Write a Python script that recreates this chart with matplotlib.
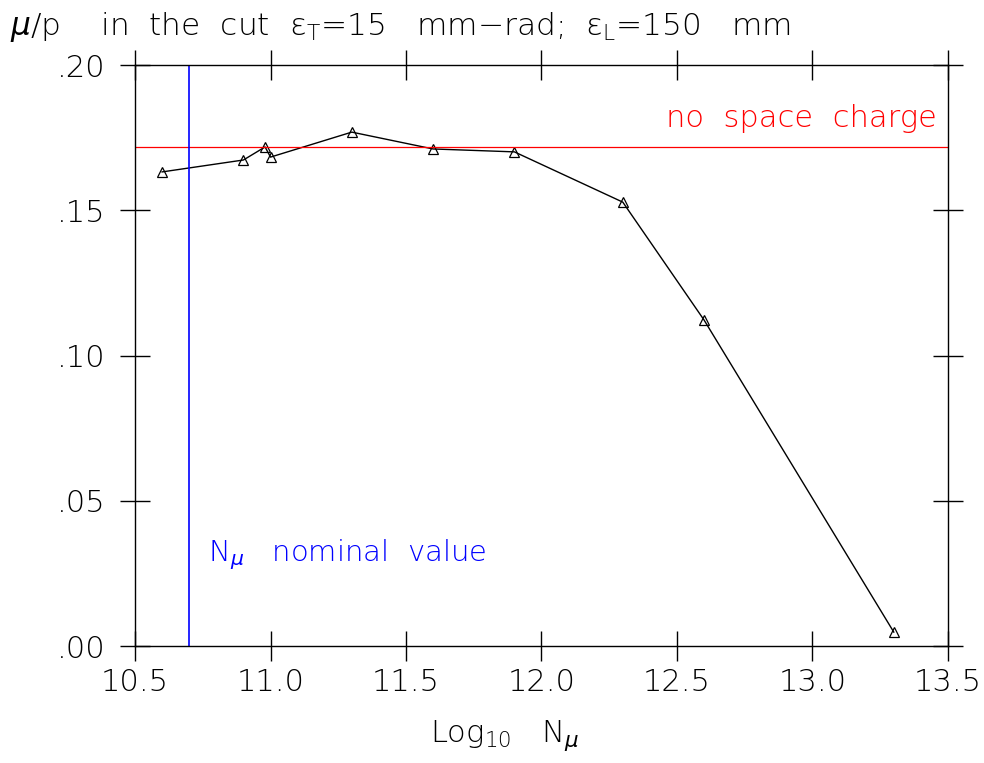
import matplotlib
matplotlib.use("Agg")
import matplotlib.pyplot as plt
from matplotlib.ticker import FixedLocator, FuncFormatter

# data
log_n = [10.6, 10.9, 10.98, 11.0, 11.3, 11.6, 11.9, 12.3, 12.6, 13.3]
mu_p = [0.1632, 0.1673, 0.1718, 0.1683, 0.1769, 0.1711, 0.1701, 0.1528, 0.1122, 0.0048]
no_sc_level = 0.1718
nominal_log_n = 10.7

x_ticks = [10.5, 11.0, 11.5, 12.0, 12.5, 13.0, 13.5]
y_ticks = [0.00, 0.05, 0.10, 0.15, 0.20]

plt.rcParams["font.family"] = ["DejaVu Sans"]
plt.rcParams["font.weight"] = "light"
plt.rcParams["axes.labelweight"] = "light"
plt.rcParams["mathtext.fontset"] = "custom"
plt.rcParams["mathtext.rm"] = "DejaVu Sans:light"
plt.rcParams["mathtext.it"] = "DejaVu Sans:italic:light"
plt.rcParams["mathtext.default"] = "regular"

fig = plt.figure(figsize=(9.84, 7.63), dpi=100)
ax = fig.add_axes([0.1372, 0.1533, 0.8262, 0.7615])

ax.plot(log_n, mu_p, color="black", lw=1.0, marker="^", mfc="none",
        mec="black", ms=7, mew=0.9)
ax.axhline(no_sc_level, color="red", lw=0.9)
ax.axvline(nominal_log_n, color="blue", lw=1.2)

ax.text(13.46, 0.1765, "no  space  charge", color="red", fontsize=22,
        ha="right", va="bottom")
ax.text(10.77, 0.0255, r"N$_{\mathit{\mu}}$   nominal  value", color="blue", fontsize=21,
        ha="left", va="bottom")

ax.set_xlim(10.5, 13.5)
ax.set_ylim(0.0, 0.20)
ax.xaxis.set_major_locator(FixedLocator(x_ticks))
ax.yaxis.set_major_locator(FixedLocator(y_ticks))
ax.xaxis.set_major_formatter(FuncFormatter(lambda v, p: f"{v:.1f}"))
ax.yaxis.set_major_formatter(FuncFormatter(lambda v, p: f"{v:.2f}".lstrip("0")))

ax.tick_params(direction="inout", length=22, width=1.0, labelsize=22,
               top=True, right=True)
ax.tick_params(axis="y", pad=10)
ax.tick_params(axis="x", pad=5)
for s in ax.spines.values():
    s.set_linewidth(1.0)

ax.set_xlabel(r"Log$_{10}$   N$_{\mathit{\mu}}$", fontsize=22, ha="left")
ax.xaxis.set_label_coords(0.363, -0.125)
fig.text(0.010, 0.965,
         r"$\mathit{\mu}$/p    in  the  cut  $\epsilon_T$=15   mm$-$rad;  $\epsilon_L$=150   mm",
         fontsize=22.5, ha="left", va="center")

fig.savefig("out.png", dpi=100)
